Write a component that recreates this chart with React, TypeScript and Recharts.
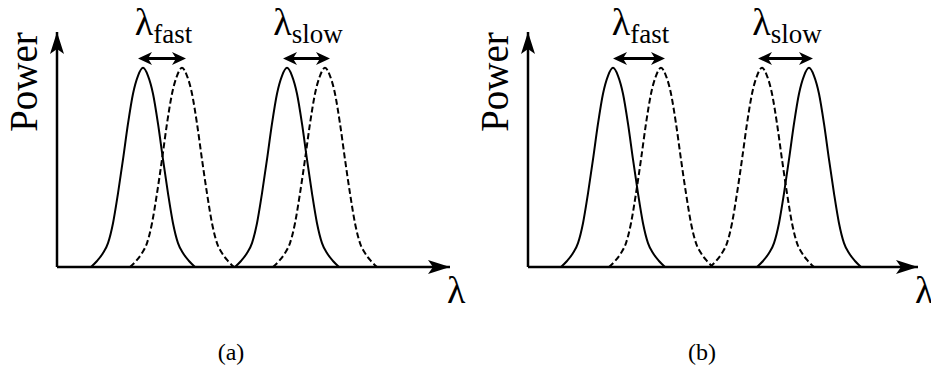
import { LineChart, Line, XAxis, YAxis, ReferenceLine } from 'recharts';

// peak shape: offset from the peak centre (λ units) and relative power
const profileOffset = [-52, -46, -40, -35, -30, -25, -20, -15, -10, -5, 0, 5, 10, 15, 20, 25, 30, 35, 40, 46, 52];
const profilePower = [0, 0.03, 0.07, 0.12, 0.22, 0.37, 0.54, 0.72, 0.87, 0.96, 1, 0.96, 0.87, 0.72, 0.54, 0.37, 0.22, 0.12, 0.07, 0.03, 0];

// peak centres (λ units from the vertical axis)
const solidPeaksA = [86, 230];
const dashedPeaksA = [125, 268];
const solidPeaksB = [85, 281];
const dashedPeaksB = [133, 234];

// shift arrows between the peaks
const shiftsA = [
    { name: 'fast', from: 81, to: 129 },
    { name: 'slow', from: 226, to: 273 },
];
const shiftsB = [
    { name: 'fast', from: 85, to: 137 },
    { name: 'slow', from: 230, to: 285 },
];
const arrowLevel = 1.047;

const captions = ['(a)', '(b)'];
const yLabel = 'Power';
const xLabel = 'λ';

const SERIF = 'Liberation Serif';

const peak = (centre: number) =>
    profileOffset.map((d, i) => ({ x: centre + d, p: profilePower[i] }));

const DoubleArrow = (props: any) => {
    const { x1, x2, y1, name } = props;
    const y = y1;
    const head = 14;
    const half = 6.5;
    return (
        <g>
            <line x1={x1 + 8} x2={x2 - 8} y1={y} y2={y} stroke="#000" strokeWidth={3} />
            <path d={`M${x1},${y} L${x1 + head},${y - half} L${x1 + head - 4},${y} L${x1 + head},${y + half} Z`} fill="#000" />
            <path d={`M${x2},${y} L${x2 - head},${y - half} L${x2 - head + 4},${y} L${x2 - head},${y + half} Z`} fill="#000" />
            <text x={(x1 + x2) / 2 + 1.5} y={y - 23.5} textAnchor="middle" fontFamily={SERIF} fontSize={38} fill="#000">
                λ<tspan fontSize={27} dy={8}>{name}</tspan>
            </text>
        </g>
    );
};

function Panel({ solid, dashed, shifts, span, width, margin, caption, id }: any) {
    return (
        <LineChart width={width} height={369} margin={margin} style={{ fontFamily: SERIF }}>
            <defs>
                <marker
                    id={id}
                    markerUnits="userSpaceOnUse"
                    markerWidth={24}
                    markerHeight={16}
                    refX={22}
                    refY={8}
                    orient="auto-start-reverse"
                    viewBox="0 0 24 16"
                >
                    <path d="M0,1 L22,8 L0,15 L5,8 Z" fill="#000" />
                </marker>
            </defs>
            <XAxis
                type="number"
                dataKey="x"
                domain={[0, span]}
                height={1}
                tick={false}
                tickLine={false}
                axisLine={{ stroke: '#000', strokeWidth: 2.5, markerEnd: `url(#${id})` }}
                label={{
                    content: ({ viewBox }: any) => (
                        <g fill="#000">
                            <text x={viewBox.x + viewBox.width - 3} y={viewBox.y + 36} fontFamily={SERIF} fontSize={38}>{xLabel}</text>
                            <text x={viewBox.x + 174} y={viewBox.y + 93} fontFamily={SERIF} fontSize={24} textAnchor="middle">{caption}</text>
                        </g>
                    ),
                }}
            />
            <YAxis
                type="number"
                domain={[0, 1.18]}
                width={1}
                tick={false}
                tickLine={false}
                axisLine={{ stroke: '#000', strokeWidth: 2.5, markerStart: `url(#${id})` }}
                label={{
                    content: ({ viewBox }: any) => (
                        <text
                            transform={`translate(${viewBox.x + viewBox.width - 20},${viewBox.y + 50}) rotate(-90)`}
                            textAnchor="middle"
                            fontFamily={SERIF}
                            fontSize={39}
                            fill="#000"
                        >
                            {yLabel}
                        </text>
                    ),
                }}
            />
            {solid.map((c: number) => (
                <Line key={`s${c}`} data={peak(c)} dataKey="p" type="monotone" stroke="#000" strokeWidth={2} dot={false} isAnimationActive={false} />
            ))}
            {dashed.map((c: number) => (
                <Line key={`d${c}`} data={peak(c)} dataKey="p" type="monotone" stroke="#000" strokeWidth={2} strokeDasharray="6 3" dot={false} isAnimationActive={false} />
            ))}
            {shifts.map((s: any) => (
                <ReferenceLine
                    key={s.name}
                    segment={[{ x: s.from, y: arrowLevel }, { x: s.to, y: arrowLevel }]}
                    shape={(p: any) => <DoubleArrow {...p} name={s.name} />}
                />
            ))}
        </LineChart>
    );
}

export default function App() {
    return (
        <div style={{ position: 'absolute', left: 0, top: 0, width: 931, height: 369, background: '#fff', fontFamily: SERIF }}>
            <div style={{ position: 'absolute', left: 0, top: 0 }}>
                <Panel
                    id="headA"
                    solid={solidPeaksA}
                    dashed={dashedPeaksA}
                    shifts={shiftsA}
                    span={393}
                    width={470}
                    margin={{ top: 32, right: 20, bottom: 101, left: 56 }}
                    caption={captions[0]}
                />
            </div>
            <div style={{ position: 'absolute', left: 470, top: 0 }}>
                <Panel
                    id="headB"
                    solid={solidPeaksB}
                    dashed={dashedPeaksB}
                    shifts={shiftsB}
                    span={390}
                    width={461}
                    margin={{ top: 32, right: 13, bottom: 101, left: 57 }}
                    caption={captions[1]}
                />
            </div>
        </div>
    );
}
